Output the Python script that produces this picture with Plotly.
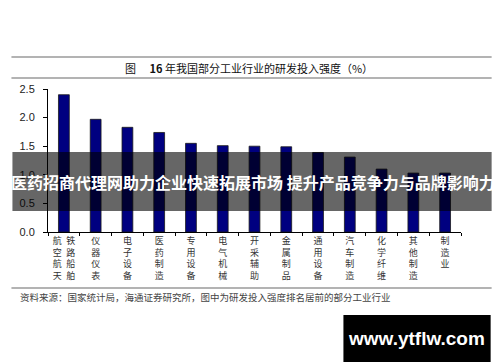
import plotly.graph_objects as go

# ---- data ----
categories = ["航空航天铁路船舶", "仪器仪表", "电子设备", "医药制造", "专用设备", "电气机械",
              "开采辅助", "金属制品", "通用设备", "汽车制造", "化学纤维", "其他制造", "制造业"]
values = [2.40, 1.97, 1.83, 1.74, 1.55, 1.51, 1.50, 1.49, 1.39, 1.31, 1.10, 1.03, 1.03]
y_ticks = [0.0, 0.5, 1.0, 1.5, 2.0, 2.5]
title_text = "图　 <b>16</b> 年我国部分工业行业的研发投入强度（%）"
source_text = "资料来源：国家统计局，海通证券研究所，图中为研发投入强度排名居前的部分工业行业"
banner_text = "医药招商代理网助力企业快速拓展市场 提升产品竞争力与品牌影响力"
watermark_text = "www.ytflw.com"


def vertical_label(name):
    if len(name) == 8:
        a, b = name[:4], name[4:]
        return "<br>".join(a[i] + "\u2002" + b[i] for i in range(4))
    return "<br>".join(list(name))


ticktext = [vertical_label(c) for c in categories]

# ---- geometry (page body has an 8px margin) ----
OFF = 8
W, H = 500 - OFF, 362 - OFF
# target positions in window pixels
AX_L, AX_R, AX_T, AX_B = 43, 461, 89, 232
L, R, T, B = AX_L - OFF, (W + OFF) - AX_R, AX_T - OFF, (H + OFF) - AX_B
PW, PH = W - L - R, H - T - B


def xp(px):
    return (px - OFF - L) / PW


def yp(py):
    return (H - B - (py - OFF)) / PH


fig = go.Figure()
fig.add_trace(go.Bar(
    x=categories, y=values,
    marker=dict(color="#000080", line=dict(color="#1a1a1a", width=0.8)),
    hoverinfo="skip",
))

fig.update_layout(
    width=W, height=H,
    margin=dict(l=L, r=R, t=T, b=B, pad=0),
    paper_bgcolor="white", plot_bgcolor="white",
    showlegend=False, bargap=0.66,
    font=dict(family="Noto Sans CJK SC, sans-serif", color="#222"),
)
fig.update_xaxes(
    type="category", tickmode="array", tickvals=categories, ticktext=ticktext,
    tickson="boundaries", ticks="outside", ticklen=3, tickcolor="#000",
    showline=True, linecolor="#000", linewidth=1, showgrid=False,
    tickangle=0, tickfont=dict(size=9, color="#333", family="Noto Sans CJK SC"),
    range=[-0.5, len(categories) - 0.5],
)
fig.update_yaxes(
    range=[0, 2.5], tickvals=y_ticks, ticktext=[f"{v:.1f}" for v in y_ticks],
    ticks="outside", ticklen=4, tickcolor="#000",
    showline=True, linecolor="#000", linewidth=1, showgrid=False, zeroline=False,
    tickfont=dict(size=11, color="#222", family="Arial, Liberation Sans"),
    ticklabelstandoff=6,
)

shapes = []
for py in (57, 78, 288):
    shapes.append(dict(type="line", xref="paper", yref="paper",
                       x0=xp(6), x1=xp(492), y0=yp(py), y1=yp(py),
                       line=dict(color="#9a9a9a", width=1.5), layer="below"))
# banner
shapes.append(dict(type="rect", xref="paper", yref="paper",
                   x0=xp(7), x1=xp(492), y0=yp(211), y1=yp(152),
                   fillcolor="rgba(0,0,0,0.6)", line=dict(width=0), layer="above"))
# watermark box
shapes.append(dict(type="rect", xref="paper", yref="paper",
                   x0=xp(342), x1=xp(491), y0=yp(362), y1=yp(315),
                   fillcolor="#000", line=dict(width=0), layer="above"))
fig.update_layout(shapes=shapes)

annotations = [
    dict(text=title_text, xref="paper", yref="paper", x=xp(246), y=yp(68),
         xanchor="center", yanchor="middle", showarrow=False,
         font=dict(size=11, color="#111", family="Noto Sans CJK SC")),
    dict(text=source_text, xref="paper", yref="paper", x=xp(13), y=yp(297),
         xanchor="left", yanchor="middle", showarrow=False,
         font=dict(size=9.5, color="#444", family="Noto Sans CJK SC")),
    dict(text="<b>" + banner_text + "</b>", xref="paper", yref="paper", x=xp(250), y=yp(182),
         xanchor="center", yanchor="middle", showarrow=False,
         font=dict(size=16, color="white", family="Noto Sans CJK SC")),
    dict(text="<b>" + watermark_text + "</b>", xref="paper", yref="paper", x=xp(416), y=yp(338),
         xanchor="center", yanchor="middle", showarrow=False,
         font=dict(size=19, color="white", family="Liberation Sans, Arial")),
]
fig.update_layout(annotations=annotations)

fig.write_html("out.html")
